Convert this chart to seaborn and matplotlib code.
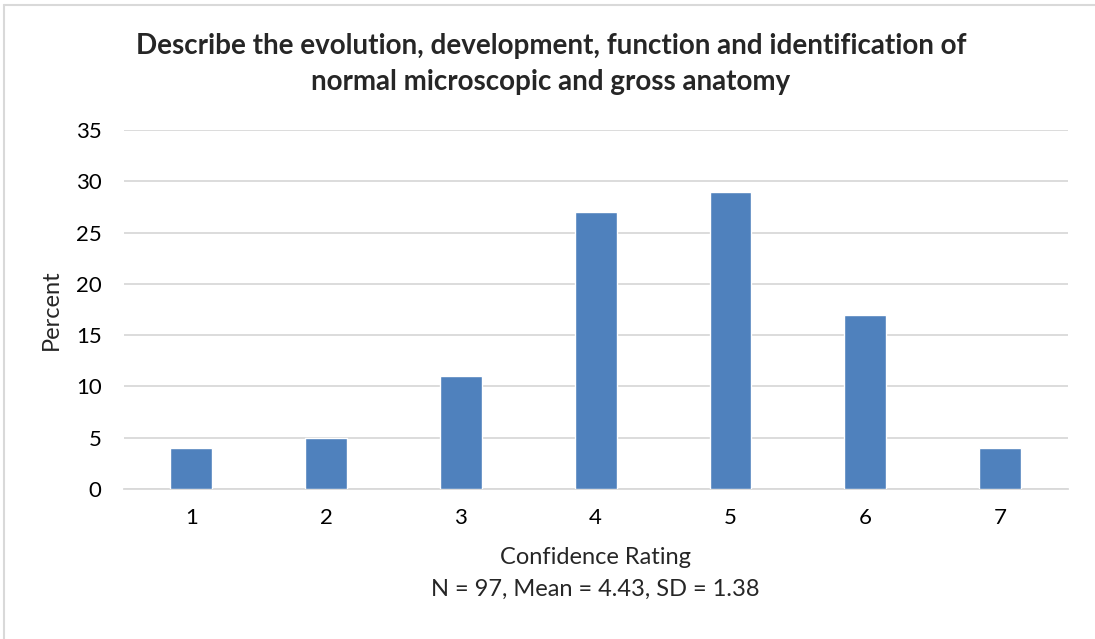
import matplotlib
matplotlib.use("Agg")
import matplotlib.pyplot as plt
import seaborn as sns
import pandas as pd
from matplotlib.lines import Line2D

ratings = ["1", "2", "3", "4", "5", "6", "7"]
percent = [4, 5, 11, 27, 29, 17, 4]
title = ("Describe the evolution, development, function and identification of\n"
         "normal microscopic and gross anatomy")
x_label = "Confidence Rating"
stats_note = "N = 97, Mean = 4.43, SD = 1.38"

df = pd.DataFrame({"rating": ratings, "percent": percent})

sns.set_style("white")
plt.rcParams["font.family"] = ["Lato", "DejaVu Sans"]

fig = plt.figure(figsize=(10.95, 6.39), dpi=100)
ax = fig.add_axes([0.113, 0.2347, 0.862, 0.5619])

sns.barplot(data=df, x="rating", y="percent", order=ratings, color="#4F81BD",
            saturation=1, width=0.31, ax=ax, zorder=3)

ax.set_ylim(0, 35)
ax.set_yticks(range(0, 36, 5))
ax.set_xlim(-0.5, 6.5)
ax.yaxis.grid(True, color="#D9D9D9", linewidth=1.3, zorder=0)
ax.set_axisbelow(True)
for s in ["top", "right", "left"]:
    ax.spines[s].set_visible(False)
ax.spines["bottom"].set_color("#D9D9D9")
ax.spines["bottom"].set_linewidth(1.3)
ax.tick_params(axis="both", length=0, labelsize=16, colors="black")
ax.tick_params(axis="x", pad=14)
ax.tick_params(axis="y", pad=16)

ax.set_ylabel("Percent", fontsize=17, labelpad=10)
ax.set_xlabel(x_label + "\n" + stats_note, fontsize=17, linespacing=1.65, labelpad=13)

fig.text(0.503, 0.9, title, ha="center", va="center", fontsize=20,
         fontweight="bold", linespacing=1.5)

# light frame: only left and top edges show in the reference
fig.add_artist(Line2D([0.0037, 0.0037], [0.0, 0.992], transform=fig.transFigure,
                      color="#D9D9D9", linewidth=1.5))
fig.add_artist(Line2D([0.0037, 1.0], [0.992, 0.992], transform=fig.transFigure,
                      color="#D9D9D9", linewidth=1.5))

fig.savefig("out.png", dpi=100)
